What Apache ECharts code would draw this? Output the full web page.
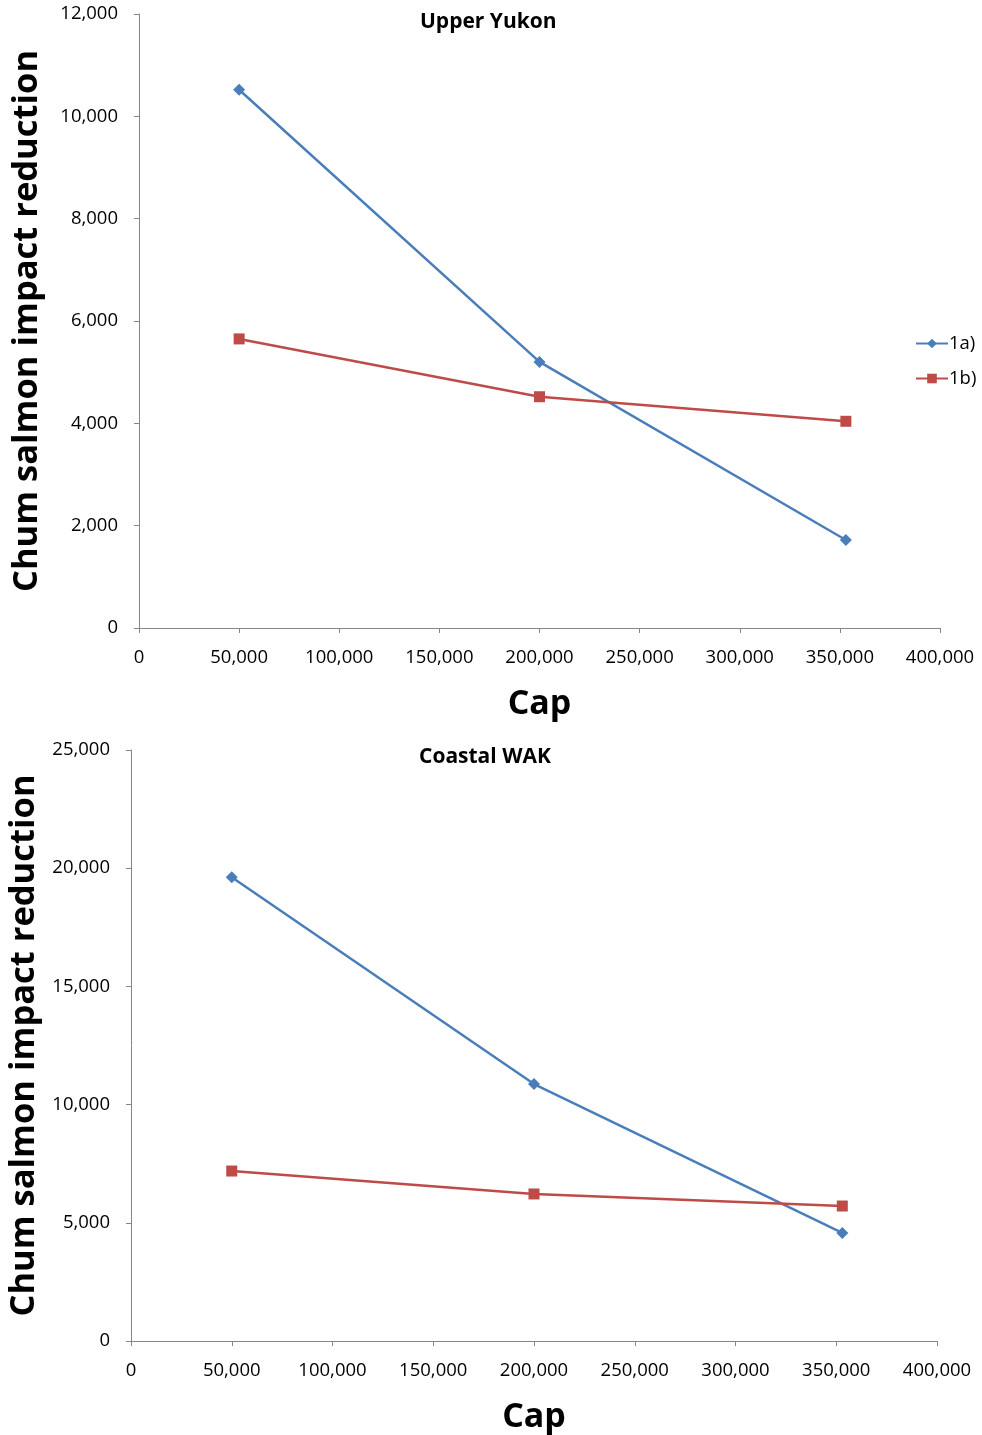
<!DOCTYPE html>
<html><head><meta charset="utf-8">
<script src="https://cdn.jsdelivr.net/npm/echarts@6/dist/echarts.min.js"></script>
<style>html,body{margin:0;padding:0;background:#fff}#c{width:982px;height:1435px}</style>
</head><body><div id="c"></div>
<script>
const caps = [50000, 200000, 353000];
const seriesNames = ['1a)', '1b)'];
const upperYukon1a = [10520, 5200, 1720];
const upperYukon1b = [5650, 4520, 4040];
const coastalWAK1a = [19620, 10870, 4570];
const coastalWAK1b = [7190, 6220, 5710];
const titles = ['Upper Yukon', 'Coastal WAK'];
const xTitle = 'Cap';
const yTitle = 'Chum salmon impact reduction';

const FONT = '"Open Sans", "Noto Sans", sans-serif';
const BLUE = '#4a7ebb', RED = '#be4b48', AXIS = '#868686';
const pairs = (xs, ys) => xs.map((x, i) => [x, ys[i]]);

function xAxis(idx) {
  return {
    gridIndex: idx, type: 'value', min: 0, max: 400000, interval: 50000,
    name: xTitle, nameLocation: 'middle', nameGap: 59,
    nameTextStyle: {fontFamily: FONT, fontWeight: 'bold', fontSize: 34, color: '#000'},
    axisLine: {lineStyle: {color: AXIS, width: 1}},
    axisTick: {show: true, length: 5, lineStyle: {color: AXIS}},
    axisLabel: {fontFamily: FONT, fontSize: 18.5, color: '#000', margin: 20,
      formatter: v => v.toLocaleString('en-US')},
    splitLine: {show: false}
  };
}
function yAxis(idx, max, interval, gap) {
  return {
    gridIndex: idx, type: 'value', min: 0, max: max, interval: interval,
    name: yTitle, nameLocation: 'middle', nameGap: gap, nameRotate: 90,
    nameTextStyle: {fontFamily: FONT, fontWeight: 'bold', fontSize: 34.5, color: '#000'},
    axisLine: {show: true, lineStyle: {color: AXIS, width: 1}},
    axisTick: {show: true, length: 5, lineStyle: {color: AXIS}},
    axisLabel: {fontFamily: FONT, fontSize: 18.5, color: '#000', margin: 21,
      formatter: v => v.toLocaleString('en-US')},
    splitLine: {show: false}
  };
}
function line(name, data, idx, color, symbol, size) {
  return {
    name: name, type: 'line', xAxisIndex: idx, yAxisIndex: idx, data: data,
    symbol: symbol, symbolSize: size, showSymbol: true,
    lineStyle: {color: color, width: 2.5}, itemStyle: {color: color},
    animation: false
  };
}

const chart = echarts.init(document.getElementById('c'));
chart.setOption({
  backgroundColor: '#fff',
  animation: false,
  title: [
    {text: titles[0], left: 415, top: 7,
     textStyle: {fontFamily: FONT, fontWeight: 'bold', fontSize: 21, color: '#000'}},
    {text: titles[1], left: 414, top: 742,
     textStyle: {fontFamily: FONT, fontWeight: 'bold', fontSize: 21, color: '#000'}}
  ],
  legend: {
    data: seriesNames, orient: 'vertical', left: 910, top: 329, itemGap: 16,
    itemWidth: 32, itemHeight: 12,
    textStyle: {fontFamily: FONT, fontSize: 18.5, color: '#000', padding: [0, 0, 0, -4]}
  },
  grid: [
    {left: 139, top: 14, width: 801, height: 614, outerBoundsMode: 'none'},
    {left: 131, top: 750, width: 806, height: 591, outerBoundsMode: 'none'}
  ],
  xAxis: [xAxis(0), xAxis(1)],
  yAxis: [yAxis(0, 12000, 2000, 94), yAxis(1, 25000, 5000, 86)],
  series: [
    line(seriesNames[0], pairs(caps, upperYukon1a), 0, BLUE, 'diamond', 12),
    line(seriesNames[1], pairs(caps, upperYukon1b), 0, RED, 'rect', 11),
    line(seriesNames[0] + ' ', pairs(caps, coastalWAK1a), 1, BLUE, 'diamond', 12),
    line(seriesNames[1] + ' ', pairs(caps, coastalWAK1b), 1, RED, 'rect', 11)
  ]
});
</script></body></html>
